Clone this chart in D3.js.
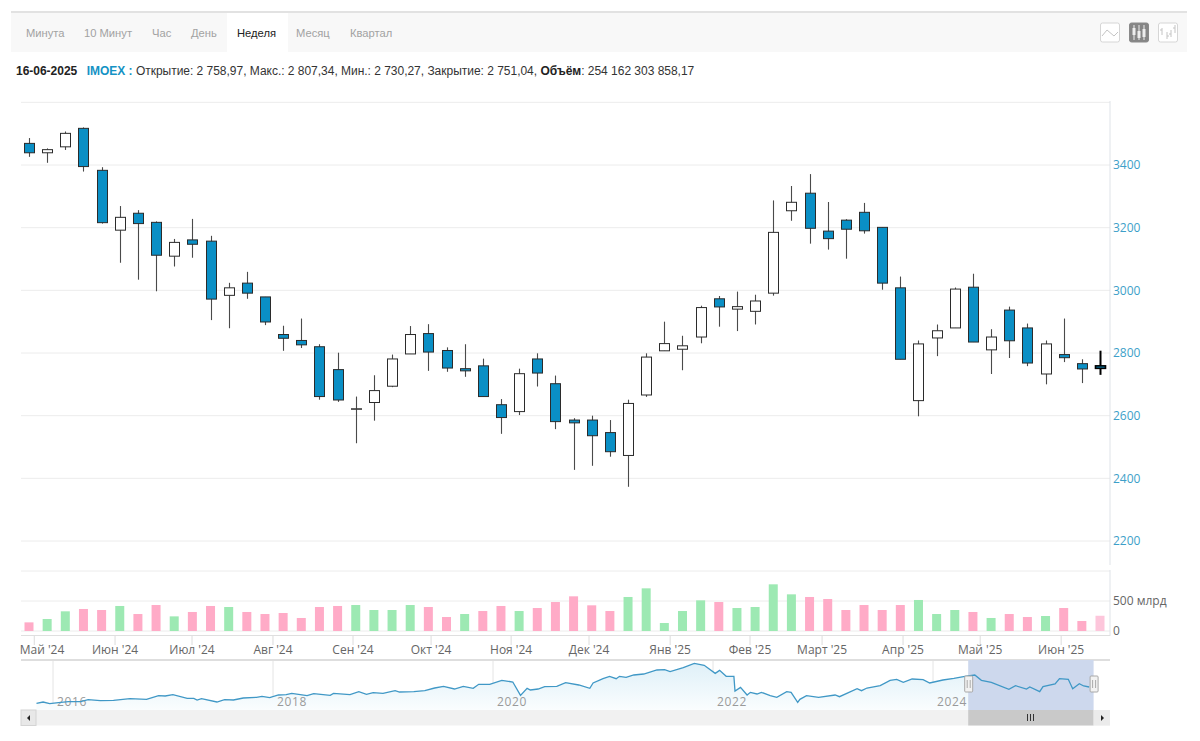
<!DOCTYPE html>
<html lang="ru">
<head>
<meta charset="utf-8">
<script src="https://cdn.jsdelivr.net/npm/d3@7/dist/d3.min.js"></script>
<style>
html,body{margin:0;padding:0;background:#fff}
svg{display:block}
.ui{font-family:"Liberation Sans",Arial,sans-serif}
.ax{font-family:"Open Sans",sans-serif}
</style>
</head>
<body>
<svg id="c" width="1200" height="741" viewBox="0 0 1200 741"></svg>
<script>
const tabs = ["Минута","10 Минут","Час","День","Неделя","Месяц","Квартал"];
const activeTab = "Неделя";
const open  = [3469,3439,3458,3517,3383,3192,3246,3217,3109,3161,3157,2984,3023,2979,2859,2840,2820,2747,2621,2642,2694,2797,2862,2808,2750,2759,2635,2613,2781,2702,2586,2586,2546,2473,2666,2807,2812,2851,2973,2940,2933,2991,3254,3310,3189,3224,3249,3201,3008,2648,2848,2880,3010,2810,2937,2880,2733,2795,2766,2758.97];
const close = [3439,3449,3501,3395,3216,3233,3213,3112,3153,3147,2972,3008,2991,2899,2847,2826,2661,2650,2622,2680,2781,2859,2803,2752,2743,2661,2594,2734,2736,2581,2577,2536,2485,2639,2787,2830,2823,2945,2947,2948,2966,3185,3281,3198,3165,3195,3190,3023,2780,2829,2871,3004,2835,2851,2839,2768,2829,2785,2749,2751.04];
const high  = [3486,3453,3507,3520,3393,3269,3256,3220,3164,3228,3174,3024,3059,2979,2887,2910,2828,2801,2661,2729,2795,2886,2892,2818,2828,2782,2653,2750,2799,2728,2592,2600,2586,2651,2799,2900,2855,2951,2982,2996,2986,3287,3333,3371,3282,3227,3279,3201,3044,2840,2891,3009,3053,2876,2948,2894,2840,2910,2780,2807.34];
const low   = [3426,3407,3448,3379,3213,3088,3034,2997,3076,3104,2905,2879,2973,2889,2807,2816,2651,2644,2512,2584,2691,2797,2743,2740,2724,2661,2542,2602,2693,2557,2427,2440,2469,2373,2660,2807,2745,2831,2884,2870,2891,2983,3222,3149,3130,3101,3181,3002,2780,2598,2790,2880,2835,2733,2784,2758,2700,2771,2704,2730.27];
const volume = [144,200,328,367,350,417,283,433,244,317,417,400,317,283,300,217,400,417,433,350,350,433,400,233,283,333,417,333,383,483,578,428,333,567,711,133,333,511,483,383,400,778,611,567,533,350,433,350,433,517,283,350,317,217,283,233,250,383,167,254];
const volumeUp = [0,1,1,0,0,1,0,0,1,0,0,1,0,0,0,0,0,0,1,1,1,1,0,0,1,0,0,1,0,0,0,0,0,1,1,1,1,1,0,1,1,1,1,0,0,0,0,0,0,1,1,1,0,1,0,0,1,0,0,0];
const monthLabels = ["Май '24","Июн '24","Июл '24","Авг '24","Сен '24","Окт '24","Ноя '24","Дек '24","Янв '25","Фев '25","Март '25","Апр '25","Май '25","Июн '25"];
const monthTicks = [0.29,4.74,8.98,13.44,17.85,22.15,26.56,30.85,35.32,39.72,43.69,48.15,52.4,56.86];
const priceTicks = [2200,2400,2600,2800,3000,3200,3400];
const priceGrid = [2200,2400,2600,2800,3000,3200,3400,3600];
const navYearTicks = [2016,2018,2020,2022,2024];
const navYears = [2015.85,2015.91,2015.97,2016.05,2016.14,2016.25,2016.32,2016.43,2016.55,2016.70,2016.85,2016.96,2017.02,2017.09,2017.22,2017.28,2017.31,2017.35,2017.49,2017.56,2017.64,2017.73,2017.85,2017.90,2017.97,2018.05,2018.12,2018.17,2018.31,2018.37,2018.52,2018.55,2018.70,2018.78,2018.85,2018.91,2019.00,2019.11,2019.15,2019.28,2019.38,2019.47,2019.55,2019.65,2019.73,2019.82,2019.87,2019.97,2020.08,2020.18,2020.25,2020.31,2020.34,2020.41,2020.47,2020.58,2020.66,2020.78,2020.88,2020.91,2021.00,2021.06,2021.12,2021.15,2021.21,2021.28,2021.37,2021.49,2021.56,2021.61,2021.73,2021.83,2021.92,2022.02,2022.06,2022.12,2022.19,2022.20,2022.25,2022.31,2022.34,2022.40,2022.44,2022.52,2022.58,2022.67,2022.71,2022.77,2022.79,2022.85,2022.96,2023.11,2023.15,2023.31,2023.35,2023.40,2023.52,2023.61,2023.67,2023.73,2023.81,2023.91,2023.97,2024.09,2024.19,2024.29,2024.38,2024.44,2024.53,2024.69,2024.75,2024.85,2024.88,2024.97,2025.00,2025.11,2025.15,2025.23,2025.27,2025.33,2025.37,2025.42];
const navValues = [1689,1776,1667,1732,1797,1797,1927,1862,1884,1992,1949,2187,2166,2252,2014,2014,1906,1992,1776,1927,1906,2036,2079,2144,2057,2231,2252,2339,2187,2317,2209,2339,2252,2447,2274,2382,2339,2512,2426,2447,2512,2686,2794,2621,2794,2664,2924,2924,3184,3076,2209,2664,2556,2621,2772,2794,3032,2881,2664,3011,3292,3444,3292,3444,3379,3531,3596,3856,3878,3748,4008,4289,4159,3639,3834,3444,3444,2491,2729,2231,2404,2296,2404,2187,2079,2447,2404,1754,1949,2187,2079,2231,2122,2642,2512,2686,2837,3184,3249,3054,3271,3227,3011,3206,3314,3444,3531,3184,3054,2599,2837,2621,2751,2447,2772,2946,3292,3249,2642,2967,2816,2751];
const navSelection = [2024.32,2025.46];

const svg = d3.select("#c");
const L = 21, R = 1110;
const x = d3.scaleLinear().domain([0,59]).range([29,1100]);
const y = d3.scaleLinear().domain([2200,3400]).range([541,165]);
const v = d3.scaleLinear().domain([0,500]).range([631,601]);
const nx = d3.scaleLinear().domain([2016,2024]).range([53,933]);
const ny = d3.scaleLinear().domain([1256,4506]).range([710,660]);

/* ---- defs ---- */
const defs = svg.append("defs");
const g1 = defs.append("linearGradient").attr("id","navFill").attr("x1",0).attr("y1",0).attr("x2",0).attr("y2",1);
g1.append("stop").attr("offset","0%").attr("stop-color","#dff0f8");
g1.append("stop").attr("offset","100%").attr("stop-color","#fafdfe");

/* ---- toolbar ---- */
svg.append("rect").attr("x",11).attr("y",13).attr("width",1176).attr("height",39).attr("fill","#f8f8f8");
svg.append("rect").attr("x",11).attr("y",11).attr("width",1176).attr("height",2).attr("fill","#e2e2e2");
svg.append("rect").attr("x",227).attr("y",13).attr("width",61).attr("height",39).attr("fill","#fff");
const tabX = [26,84,152,191,237,296,350];
svg.append("g").attr("class","ui").selectAll("text").data(tabs).join("text")
  .attr("x",(d,i)=>tabX[i]).attr("y",37).attr("font-size",11.2)
  .attr("fill",d=>d===activeTab?"#222":"#a2a2a2").text(d=>d);

/* icons */
function iconBox(ix,fill){
  return svg.append("rect").attr("x",ix).attr("y",23).attr("width",19).attr("height",19).attr("rx",2)
    .attr("fill",fill).attr("stroke",fill==="#fff"?"#d6d6d6":"#8a8a8a");
}
iconBox(1100.5,"#fff");
svg.append("path").attr("d","M1102 36 L1107 30 L1114 36 L1118 32").attr("fill","none").attr("stroke","#c4c4c4");
iconBox(1129.5,"#868686");
[1134,1139,1144].forEach((ix,i)=>{
  svg.append("path").attr("d",`M${ix} 25V40`).attr("stroke","#eee");
  svg.append("rect").attr("x",ix-1.5).attr("y",[28,31,29][i]).attr("width",3).attr("height",[7,7,8][i]).attr("fill","#eee");
});
iconBox(1158.5,"#fff");
svg.append("path").attr("d","M1162 28V35M1162 30h-2M1167 32V39M1167 36h2M1171 30V37M1171 34h-2M1175 25V33M1175 28h-2")
  .attr("stroke","#c4c4c4").attr("fill","none");

/* ---- info line ---- */
const info = svg.append("text").attr("class","ui").attr("x",16).attr("y",74.5).attr("font-size",12).attr("fill","#333").attr("letter-spacing","-0.02");
info.append("tspan").attr("font-weight","bold").attr("fill","#222").text("16-06-2025");
info.append("tspan").attr("dx",9.5).attr("font-weight","bold").attr("fill","#1592c4").text("IMOEX : ");
info.append("tspan").text("Открытие: 2 758,97, Макс.: 2 807,34, Мин.: 2 730,27, Закрытие: 2 751,04, ");
info.append("tspan").attr("font-weight","bold").attr("fill","#222").text("Объём");
info.append("tspan").text(": 254 162 303 858,17");

/* ---- price grid ---- */
svg.append("g").selectAll("line").data(priceGrid).join("line")
  .attr("x1",L).attr("x2",R).attr("y1",d=>y(d)).attr("y2",d=>y(d))
  .attr("stroke","#ececec").attr("stroke-width",1);
svg.append("line").attr("x1",R).attr("x2",R).attr("y1",101).attr("y2",565).attr("stroke","#dfe3e8");

const priceAxis = d3.axisRight(y).tickValues(priceTicks).tickSize(0).tickPadding(3).tickFormat(d3.format("d"));
const pa = svg.append("g").attr("class","ax").attr("transform",`translate(${R},0)`).call(priceAxis);
pa.select(".domain").remove();
pa.selectAll("text").attr("font-size",12).attr("fill","#3d9fc9").attr("font-family",'"Open Sans",sans-serif');

/* ---- candles ---- */
const idx = d3.range(open.length);
const last = open.length-1;
svg.append("g").selectAll("line").data(idx).join("line")
  .attr("x1",i=>Math.round(x(i))+.5).attr("x2",i=>Math.round(x(i))+.5)
  .attr("y1",i=>y(high[i])).attr("y2",i=>y(low[i]))
  .attr("stroke",i=>i===last?"#000":"#4a4a4a").attr("stroke-width",i=>i===last?2:1.1);
svg.append("g").selectAll("rect").data(idx).join("rect")
  .attr("x",i=>Math.round(x(i))-4.5).attr("width",10)
  .attr("y",i=>y(Math.max(open[i],close[i])))
  .attr("height",i=>Math.max(Math.abs(y(open[i])-y(close[i])),.5))
  .attr("fill",i=>close[i]<open[i]?"#0a8fc5":"#fff")
  .attr("stroke",i=>i===last?"#000":"#2b2b2b").attr("stroke-width",i=>i===last?1.6:1);

/* ---- volume panel ---- */
svg.append("g").selectAll("line").data([0,500,1000]).join("line")
  .attr("x1",L).attr("x2",R).attr("y1",d=>v(d)).attr("y2",d=>v(d)).attr("stroke","#ececec");
svg.append("line").attr("x1",R).attr("x2",R).attr("y1",570).attr("y2",636).attr("stroke","#dfe3e8");
svg.append("line").attr("x1",L).attr("x2",R).attr("y1",635.5).attr("y2",635.5).attr("stroke","#dfdfdf");
svg.append("g").selectAll("rect").data(idx).join("rect")
  .attr("x",i=>x(i)-4.5).attr("width",9)
  .attr("y",i=>v(volume[i])).attr("height",i=>v(0)-v(volume[i]))
  .attr("fill",i=>i===last?"#fdc6db":(volumeUp[i]?"#9de9b3":"#ffabc7"));
const va = svg.append("g").attr("class","ax").attr("transform",`translate(${R},0)`)
  .call(d3.axisRight(v).tickValues([0,500]).tickSize(0).tickPadding(3).tickFormat(d=>d?d+" млрд":"0"));
va.select(".domain").remove();
va.selectAll("text").attr("font-size",12).attr("fill","#666").attr("font-family",'"Open Sans",sans-serif');

/* ---- month axis ---- */
svg.append("g").selectAll("line").data(monthTicks).join("line")
  .attr("x1",d=>x(d)).attr("x2",d=>x(d)).attr("y1",636).attr("y2",645).attr("stroke","#dcdcdc");
svg.append("g").attr("class","ax").selectAll("text").data(monthLabels).join("text")
  .attr("x",(d,i)=>i===0?42:x(monthTicks[i])).attr("y",654).attr("text-anchor","middle")
  .attr("font-size",12).attr("fill","#666").text(d=>d);

/* ---- navigator ---- */
svg.append("rect").attr("x",L).attr("y",659).attr("width",R-L).attr("height",2).attr("fill","#dedede");
svg.append("g").selectAll("line").data(navYearTicks).join("line")
  .attr("x1",d=>nx(d)).attr("x2",d=>nx(d)).attr("y1",661).attr("y2",710).attr("stroke","#e4e4e4");
const navPts = navYears.map((t,i)=>[t,navValues[i]]);
svg.append("path").datum(navPts)
  .attr("d",d3.area().x(d=>nx(d[0])).y0(710).y1(d=>ny(d[1])))
  .attr("fill","url(#navFill)");
svg.append("g").attr("class","ax").selectAll("text").data(navYearTicks).join("text")
  .attr("x",d=>nx(d)+4).attr("y",706).attr("font-size",12).attr("fill","#9a9a9a").attr("letter-spacing",".6").text(d=>d);
const sx0 = nx(navSelection[0]), sx1 = nx(navSelection[1]);
svg.append("rect").attr("x",sx0).attr("y",660).attr("width",sx1-sx0).attr("height",50).attr("fill","#cdd8ed");
svg.append("path").datum(navPts)
  .attr("d",d3.line().x(d=>nx(d[0])).y(d=>ny(d[1])))
  .attr("fill","none").attr("stroke","#4098c6").attr("stroke-width",1.3);

/* scrollbar */
svg.append("rect").attr("x",L).attr("y",710).attr("width",R-L).attr("height",15.5).attr("fill","#f1f1f1");
svg.append("rect").attr("x",21).attr("y",710).attr("width",15).attr("height",15.5).attr("fill","#e8e8e8").attr("stroke","#d4d4d4");
svg.append("path").attr("d","M30 715v6l-3-3z").attr("fill","#222");
svg.append("rect").attr("x",sx0).attr("y",710).attr("width",sx1-sx0).attr("height",15.5).attr("fill","#c9c9c9");
svg.append("rect").attr("x",sx1).attr("y",710).attr("width",R-sx1).attr("height",15.5).attr("fill","#ebebeb");
svg.append("path").attr("d","M1101 715v6l3-3z").attr("fill","#222");
const thumbMid = Math.round((sx0+sx1)/2);
svg.append("path").attr("d",`M${thumbMid-3.5} 714v7M${thumbMid-.5} 714v7M${thumbMid+2.5} 714v7`).attr("stroke","#333");
[sx0,sx1].forEach(h=>{
  svg.append("rect").attr("x",h-3.5).attr("y",676).attr("width",8).attr("height",16).attr("rx",1)
    .attr("fill","#f2f2f2").attr("stroke","#a8a8a8");
  svg.append("path").attr("d",`M${h-1} 680v8M${h+2} 680v8`).attr("stroke","#aaa");
});
</script>
</body>
</html>
